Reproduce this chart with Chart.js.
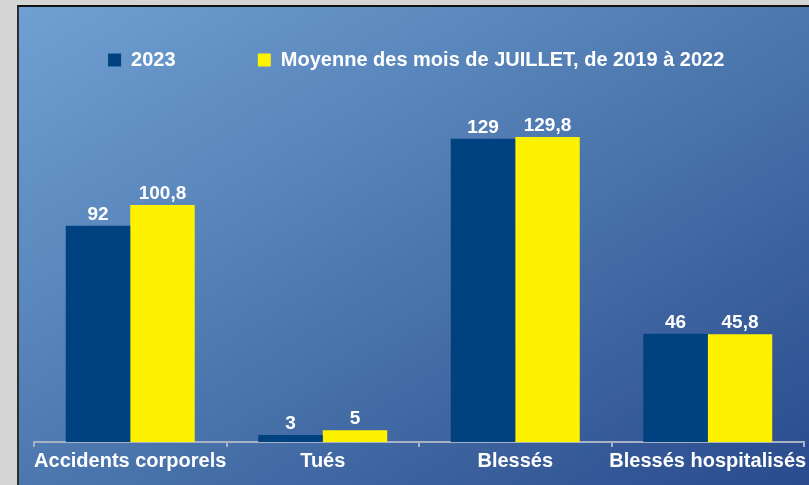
<!DOCTYPE html>
<html>
<head>
<meta charset="utf-8">
<script src="https://cdn.jsdelivr.net/npm/chart.js@4"></script>
<style>
  html, body { margin: 0; padding: 0; overflow: hidden; }
  body { width: 809px; height: 485px; background: #d4d4d4; position: relative; }
  .panel {
    position: absolute; left: 17px; top: 5px; width: 820px; height: 500px;
    border-left: 2px solid #2e2e2e; border-top: 2px solid #111;
    background: linear-gradient(to bottom right, #70a0d3, #4b76ad 50%, #27478a);
  }
  #chart { position: absolute; left: 0; top: 0; }
</style>
</head>
<body>
<div class="panel"></div>
<canvas id="chart" width="809" height="485"></canvas>
<script>
const categories = ['Accidents corporels', 'Tués', 'Blessés', 'Blessés hospitalisés'];
const seriesNames = ['2023', 'Moyenne des mois de JUILLET, de 2019 à 2022'];
const values2023 = [92, 3, 129, 46];
const valuesMoyenne = [100.8, 5, 129.8, 45.8];

Chart.defaults.font.family = '"Liberation Sans", Arial, sans-serif';
Chart.defaults.font.weight = 'bold';
Chart.defaults.color = '#ffffff';

// values written above each bar, french decimal comma
const valueLabels = {
    id: 'valueLabels',
    afterDatasetsDraw(chart) {
        const ctx = chart.ctx;
        ctx.save();
        ctx.font = 'bold 19px "Liberation Sans", Arial, sans-serif';
        ctx.fillStyle = '#ffffff';
        ctx.textAlign = 'center';
        ctx.textBaseline = 'alphabetic';
        chart.data.datasets.forEach((ds, i) => {
            chart.getDatasetMeta(i).data.forEach((bar, j) => {
                ctx.fillText(String(ds.data[j]).replace('.', ','), bar.x, bar.y - 6);
            });
        });
        ctx.restore();
    }
};

const ctx = document.getElementById('chart').getContext('2d');
new Chart(ctx, {
    type: 'bar',
    data: {
        labels: categories,
        datasets: [{
            label: seriesNames[0],
            data: values2023,
            backgroundColor: '#00427f'
        }, {
            label: seriesNames[1],
            data: valuesMoyenne,
            backgroundColor: '#fff200'
        }]
    },
    options: {
        responsive: false,
        animation: false,
        categoryPercentage: 0.67,
        barPercentage: 1,
        layout: {
            padding: { left: 34, right: 5, top: 40, bottom: 10 }
        },
        scales: {
            x: {
                grid: {
                    drawOnChartArea: false,
                    drawTicks: true,
                    tickLength: 5,
                    color: '#a7b2c4',
                    lineWidth: 2
                },
                border: { display: true, color: '#a7b2c4', width: 2 },
                ticks: {
                    color: '#ffffff',
                    font: { size: 20, weight: 'bold' },
                    padding: 2,
                    maxRotation: 0,
                    minRotation: 0,
                    autoSkip: false
                }
            },
            y: {
                display: false,
                min: 0,
                max: 154
            }
        },
        plugins: {
            tooltip: { enabled: false },
            legend: {
                display: true,
                position: 'top',
                labels: {
                    boxWidth: 13,
                    boxHeight: 13,
                    padding: 10,
                    color: '#ffffff',
                    font: { size: 20, weight: 'bold' },
                    generateLabels: function (chart) {
                        const items = Chart.defaults.plugins.legend.labels.generateLabels(chart);
                        // widen the gap between the two entries
                        items.forEach((it, i) => {
                            it.lineWidth = 0;
                            if (i < items.length - 1) it.text = it.text + ' '.repeat(13);
                            else it.text = it.text + ' ';
                        });
                        return items;
                    }
                }
            }
        }
    },
    plugins: [valueLabels]
});
</script>
</body>
</html>
